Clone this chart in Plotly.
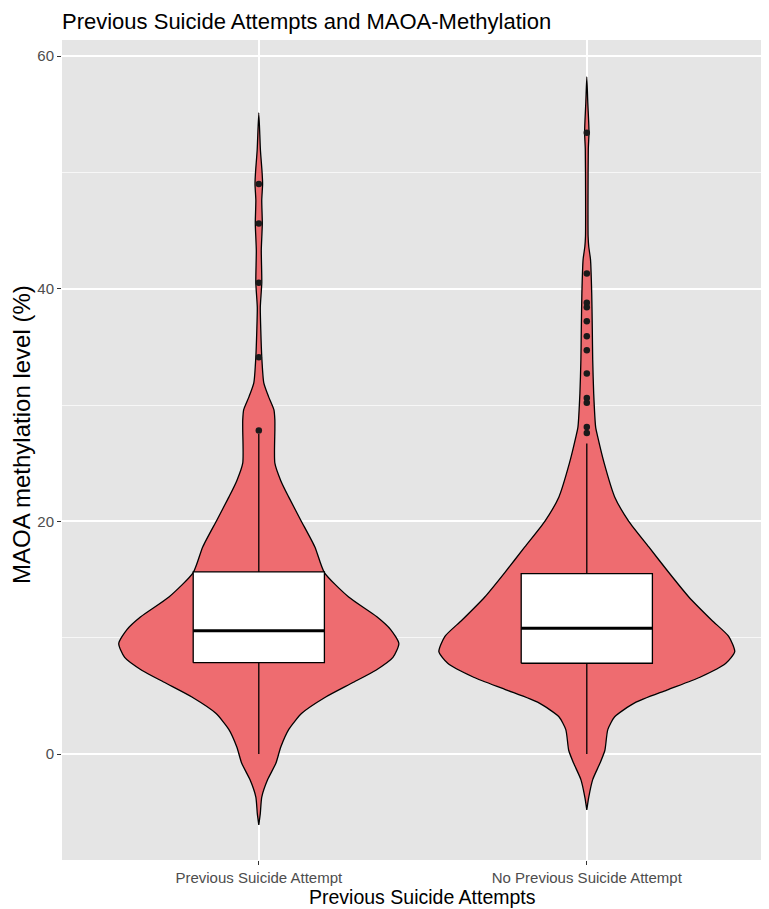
import plotly.graph_objects as go

categories = ["Previous Suicide Attempt", "No Previous Suicide Attempt"]
positions = [1, 2]

# violin outline: methylation level and half-width of the density (category units)
v1_level = [55.1, 51.9, 50.0, 49.0, 47.6, 45.6, 43.3, 40.5, 38.4, 36.4, 34.1, 31.9, 30.7, 29.6, 28.7,
            27.85, 25.0, 23.5, 22.1, 20.1, 17.8, 15.6, 13.5, 11.8, 10.7, 9.5, 8.3, 7.2, 6.1, 4.9,
            3.5, 2.1, 0.6, -0.8, -2.2, -3.7, -5.1, -6.1]
v1_half = [0.0, 0.005, 0.010, 0.0116, 0.009, 0.0107, 0.0076, 0.0091, 0.0046, 0.0061, 0.0091, 0.0152,
           0.030, 0.046, 0.049, 0.049, 0.049, 0.067, 0.091, 0.128, 0.171, 0.200, 0.274, 0.360, 0.402,
           0.427, 0.409, 0.357, 0.284, 0.204, 0.131, 0.091, 0.067, 0.052, 0.027, 0.009, 0.0046, 0.0]

v2_level = [58.2, 56.0, 54.5, 53.4, 52.0, 48.0, 44.5, 43.6, 42.5, 39.6, 36.5, 33.9, 31.0, 28.1,
            27.3, 25.0, 22.1, 20.0, 17.8, 15.6, 13.5, 11.5, 10.1, 8.8, 7.8, 6.6, 5.5, 4.4, 3.2,
            2.1, 0.3, -0.8, -2.2, -3.7, -4.8]
v2_half = [0.0, 0.003, 0.0055, 0.0067, 0.0046, 0.0037, 0.004, 0.006, 0.0113, 0.015, 0.0168, 0.018,
           0.021, 0.027, 0.033, 0.053, 0.085, 0.128, 0.189, 0.250, 0.311, 0.381, 0.433, 0.451,
           0.424, 0.345, 0.244, 0.146, 0.085, 0.064, 0.055, 0.040, 0.018, 0.006, 0.0]

# box statistics
q1 = [7.85, 7.8]
median = [10.6, 10.8]
q3 = [15.65, 15.5]
whisker_low = [0.0, 0.0]
whisker_high = [27.5, 26.7]

outliers_1 = [49.0, 45.6, 40.5, 34.1, 27.8]
outliers_2 = [53.4, 41.3, 38.8, 38.4, 37.2, 35.9, 34.7, 32.7, 30.6, 30.2, 28.1, 27.6]

FILL = "#EE6C70"
BOX_HALF = 0.2
FONT = "Liberation Sans, Arial, sans-serif"
fig = go.Figure()

for pos, lv, hw in [(positions[0], v1_level, v1_half), (positions[1], v2_level, v2_half)]:
    xs = [pos - h for h in hw] + [pos + h for h in reversed(hw)]
    ys = list(lv) + list(reversed(lv))
    fig.add_trace(go.Scatter(x=xs, y=ys, mode="lines", fill="toself", fillcolor=FILL,
                             line=dict(color="black", width=1.3, shape="spline", smoothing=0.6),
                             hoverinfo="skip", showlegend=False))

for i, pos in enumerate(positions):
    fig.add_trace(go.Scatter(x=[pos, pos, None, pos, pos],
                             y=[q3[i], whisker_high[i], None, q1[i], whisker_low[i]],
                             mode="lines", line=dict(color="black", width=1.3),
                             showlegend=False, hoverinfo="skip"))
    fig.add_trace(go.Scatter(x=[pos - BOX_HALF, pos + BOX_HALF, pos + BOX_HALF, pos - BOX_HALF, pos - BOX_HALF],
                             y=[q1[i], q1[i], q3[i], q3[i], q1[i]], mode="lines", fill="toself",
                             fillcolor="white", line=dict(color="black", width=1.3),
                             showlegend=False, hoverinfo="skip"))
    fig.add_trace(go.Scatter(x=[pos - BOX_HALF, pos + BOX_HALF], y=[median[i], median[i]], mode="lines",
                             line=dict(color="black", width=3), showlegend=False, hoverinfo="skip"))

for pos, pts in [(positions[0], outliers_1), (positions[1], outliers_2)]:
    fig.add_trace(go.Scatter(x=[pos] * len(pts), y=pts, mode="markers",
                             marker=dict(color="#1a1a1a", size=6.5), showlegend=False))

# the page adds an 8px body margin; the figure is sized to compensate
fig.update_layout(
    width=761, height=901,
    margin=dict(l=54, r=0, t=32, b=49),
    paper_bgcolor="white", plot_bgcolor="#E5E5E5",
    font=dict(family=FONT, color="black"),
    title=dict(text="Previous Suicide Attempts and MAOA-Methylation", x=54 / 761, xanchor="left",
               y=1 - 13 / 901, yanchor="middle", font=dict(size=22, color="black")),
    showlegend=False,
    annotations=[
        dict(text="Previous Suicide Attempts", x=1.5, xref="x", y=0, yref="paper",
             yshift=-37, yanchor="middle", xanchor="center", showarrow=False,
             font=dict(size=19.5, color="black")),
        dict(text="MAOA methylation level (%)", x=0, xref="paper", xshift=-41, xanchor="center",
             y=(860 - 435) / 820, yref="paper", yanchor="middle", textangle=-90, showarrow=False,
             font=dict(size=24, color="black")),
    ],
)
fig.update_xaxes(range=[0.4, 0.4 + 707 / 328], tickvals=positions, ticktext=categories,
                 showgrid=True, gridcolor="white", gridwidth=1.5, zeroline=False,
                 ticks="outside", ticklen=4, tickcolor="#333333", tickwidth=1,
                 tickfont=dict(size=15, color="#4D4D4D"))
fig.update_yaxes(range=[-9.11, 61.375], tickvals=[0, 20, 40, 60],
                 showgrid=True, gridcolor="white", gridwidth=1.5, zeroline=False,
                 minor=dict(tickvals=[10, 30, 50], showgrid=True, gridcolor="#F7F7F7", gridwidth=0.8),
                 ticks="outside", ticklen=4, tickcolor="#333333", tickwidth=1,
                 tickfont=dict(size=15, color="#4D4D4D"))

fig.write_html("out.html")
